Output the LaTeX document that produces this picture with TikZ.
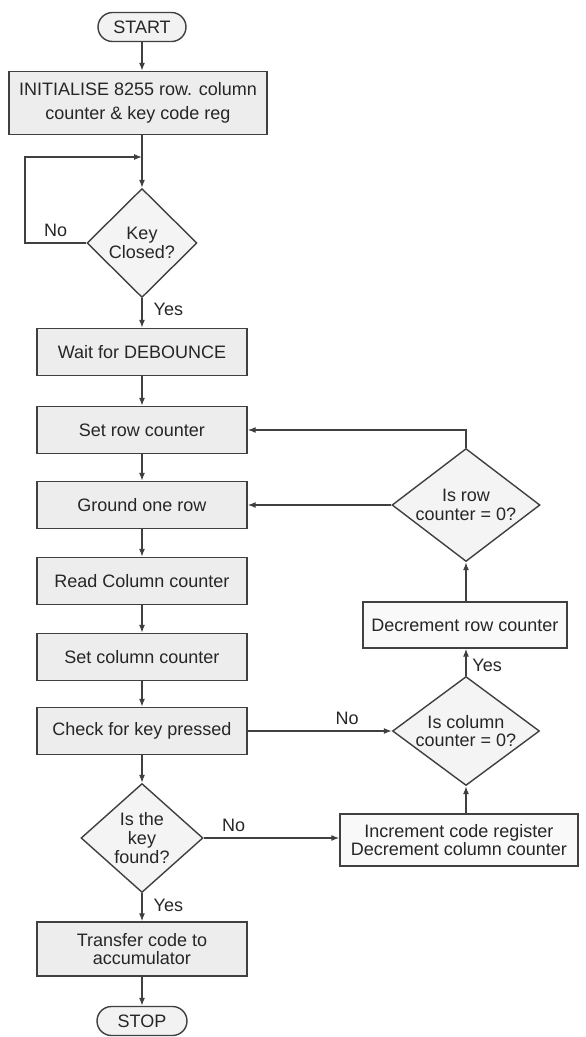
\documentclass[tikz,border=0pt]{standalone}
\usepackage{fontspec}
\setmainfont{Liberation Sans}
\usepackage{tikz}
\usetikzlibrary{arrows.meta, positioning, shapes.geometric}
\tikzset{
  procbox/.style  = {draw=black!75, line width=0.8pt, fill=gray!14,
                     minimum height=9.4mm, inner sep=2pt, align=center,
                     font=\fontsize{10.24}{10.6}\selectfont, text=black!85},
  sidebox/.style  = {procbox, fill=gray!5},
  termnode/.style = {draw=black!75, line width=0.8pt, fill=gray!10,
                     rounded corners=2.9mm, minimum height=5.8mm,
                     font=\fontsize{10.24}{10.6}\selectfont, text=black!85},
  decnode/.style  = {diamond, draw=black!75, line width=0.8pt, fill=gray!9,
                     inner sep=0pt, align=center,
                     font=\fontsize{10.24}{10.6}\selectfont, text=black!85},
  link/.style     = {-, line width=0.7pt, black!75},
  flow/.style     = {link, -{Latex[length=1.6mm, width=1.2mm]}},
  lbl/.style      = {font=\fontsize{10.24}{10.6}\selectfont, text=black!85},
}

\begin{document}
\begin{tikzpicture}
    \useasboundingbox (0,0) rectangle (11.72,-20.74);
    % --- main column --------------------------------------------------
    \node[termnode, minimum width=1.76cm] (start) at (2.84,-0.54)  {START};
    \node[procbox, minimum width=5.16cm, minimum height=1.26cm] (init) at (2.76,-2.06)
      {INITIALISE 8255 row. column\\[3pt]counter \& key code reg};
    \coordinate (join) at (2.84,-3.14);
    \coordinate (loop) at (0.50,-3.14);
    \node[decnode, minimum width=2.2cm, minimum height=2.18cm, aspect=1] (key) at (2.84,-4.86)
      {Key\\Closed?};
    \node[procbox, minimum width=4.2cm] (wait)    at (2.84,-7.04)  {Wait for DEBOUNCE};
    \node[procbox, minimum width=4.2cm] (setrow)  at (2.84,-8.60)  {Set row counter};
    \node[procbox, minimum width=4.2cm] (ground)  at (2.84,-10.10) {Ground one row};
    \node[procbox, minimum width=4.2cm] (readcol) at (2.84,-11.62) {Read Column counter};
    \node[procbox, minimum width=4.2cm] (setcol)  at (2.84,-13.14) {Set column counter};
    \node[procbox, minimum width=4.2cm] (check)   at (2.84,-14.62) {Check for key pressed};
    \node[decnode, minimum width=2.44cm, minimum height=2.18cm, aspect=1.1] (found) at (2.84,-16.76)
      {Is the\\key\\found?};
    \node[procbox, minimum width=4.2cm, minimum height=1.08cm] (transfer) at (2.84,-18.98)
      {Transfer code to\\accumulator};
    \node[termnode, minimum width=1.8cm] (stop)  at (2.84,-20.42) {STOP};
    % --- right column -------------------------------------------------
    \node[decnode, minimum width=2.96cm, minimum height=2.26cm, aspect=1.3] (rowzero) at (9.32,-10.10)
      {Is row\\counter = 0?};
    \node[sidebox, minimum width=4.08cm, minimum height=0.92cm] (decrow) at (9.30,-12.50)
      {Decrement row counter};
    \node[decnode, minimum width=2.94cm, minimum height=2.18cm, aspect=1.35] (colzero) at (9.32,-14.62)
      {Is column\\counter = 0?};
    \node[sidebox, minimum width=4.76cm, minimum height=1.04cm] (incr) at (9.18,-16.80)
      {Increment code register\\Decrement column counter};
    % --- edges --------------------------------------------------------
    \draw[flow] (start.south) -- (start.south |- init.north);
    \draw[link] (join |- init.south) -- (join);
    \draw[flow] (join) -- (key);
    \draw[flow] (key.west) -- node[lbl, above] {No} (key.west -| loop) -- (loop) -- (join);
    \draw[flow] (key) -- node[lbl, right=3pt, pos=0.38] {Yes} (wait);
    \draw[flow] (wait)    -- (setrow);
    \draw[flow] (setrow)  -- (ground);
    \draw[flow] (ground)  -- (readcol);
    \draw[flow] (readcol) -- (setcol);
    \draw[flow] (setcol)  -- (check);
    \draw[flow] (check)   -- (found);
    \draw[flow] (found) -- node[lbl, right=3pt, pos=0.42] {Yes} (transfer);
    \draw[flow] (transfer) -- (stop);
    \draw[flow] (found.east) -- node[lbl, above, pos=0.22] {No} (found.east -| incr.west);
    \draw[flow] (check.east) -- node[lbl, above, pos=0.69] {No} (colzero.west);
    \draw[flow] (incr.north -| colzero.south) -- (colzero.south);
    \draw[flow] (colzero.north) -- node[lbl, right, pos=0.4] {Yes} (colzero.north |- decrow.south);
    \draw[flow] (colzero.north |- decrow.north) -- (rowzero.south);
    \draw[flow] (rowzero.west) -- (ground.east);
    \draw[flow] (rowzero.north) |- (setrow.east);
  \end{tikzpicture}
\end{document}
